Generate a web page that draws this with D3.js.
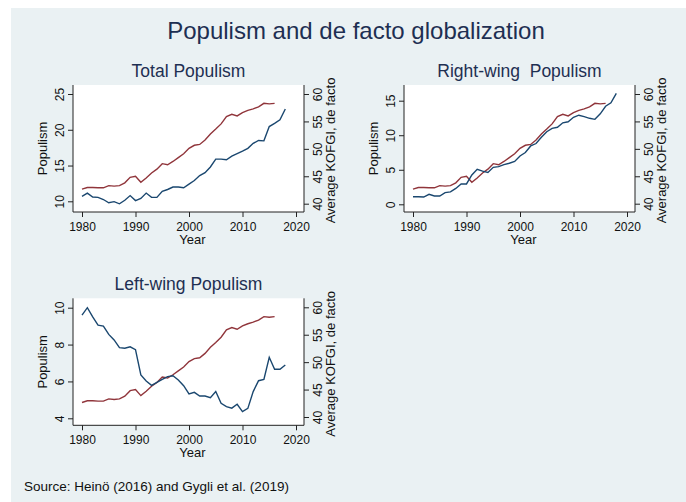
<!DOCTYPE html>
<html>
<head>
<meta charset="utf-8">
<script src="https://cdn.jsdelivr.net/npm/d3@7"></script>
<style>
  html, body { margin: 0; padding: 0; background: #ffffff; }
  svg { display: block; font-family: "Liberation Sans", Arial, sans-serif; }
</style>
</head>
<body>
<script>
// Yearly populism vote shares (Heinö) and average de facto KOF globalization index
const years = [1980,1981,1982,1983,1984,1985,1986,1987,1988,1989,1990,1991,1992,1993,1994,1995,1996,1997,1998,1999,
               2000,2001,2002,2003,2004,2005,2006,2007,2008,2009,2010,2011,2012,2013,2014,2015,2016,2017,2018];
const kofYears = [1980,1981,1982,1983,1984,1985,1986,1987,1988,1989,1990,1991,1992,1993,1994,1995,1996,1997,1998,1999,
                  2000,2001,2002,2003,2004,2005,2006,2007,2008,2009,2010,2011,2012,2013,2014,2015,2016];

const totalPopulism = [10.7,11.15,10.6,10.55,10.25,9.8,9.95,9.65,10.15,10.8,10.1,10.4,11.15,10.55,10.55,11.4,11.65,12.0,12.0,11.9,
                       12.4,12.9,13.6,14.0,14.8,15.9,15.9,15.8,16.3,16.65,17.0,17.4,18.1,18.5,18.45,20.45,20.9,21.4,22.9];
const rightPopulism = [1.1,1.1,1.05,1.45,1.2,1.2,1.7,1.8,2.3,2.95,2.95,4.25,5.07,4.8,4.6,5.35,5.45,5.75,5.95,6.2,
                       7.0,7.5,8.45,8.8,9.7,10.5,11.0,11.15,11.8,11.95,12.6,12.9,12.7,12.45,12.3,13.1,14.2,14.7,16.05];
const leftPopulism = [9.6,10.0,9.5,9.05,9.0,8.55,8.25,7.83,7.8,7.88,7.72,6.35,6.02,5.79,5.95,6.11,6.26,6.31,6.08,5.77,
                      5.32,5.41,5.21,5.21,5.12,5.45,4.81,4.63,4.55,4.76,4.36,4.54,5.45,6.04,6.11,7.31,6.66,6.66,6.89];
const kofgiDeFacto = [42.65,42.95,42.95,42.9,42.9,43.3,43.2,43.3,43.8,44.8,45.0,43.9,44.7,45.6,46.3,47.3,47.1,47.7,48.4,49.1,
                      50.1,50.65,50.8,51.6,52.7,53.6,54.55,55.9,56.3,56.0,56.6,57.0,57.3,57.65,58.3,58.2,58.3];

const xTicks = [1980, 1990, 2000, 2010, 2020];
const kofTicks = [40, 45, 50, 55, 60];
const totalTicks = [10, 15, 20, 25];
const rightTicks = [0, 5, 10, 15];
const leftTicks = [4, 6, 8, 10];

const mainTitle = "Populism and de facto globalization";
const sourceNote = "Source: Heinö (2016) and Gygli et al. (2019)";

const W = 686, H = 502;
const navy = "#1a476f", maroon = "#90353b", titleInk = "#1e2f52", ink = "#111111";
const intFmt = d3.format("d");

const svg = d3.select("body").append("svg").attr("width", W).attr("height", H);

svg.append("rect").attr("x", 11).attr("y", 8).attr("width", W - 11).attr("height", H - 8)
  .attr("fill", "#eaf1f3");

svg.append("text").attr("x", 356).attr("y", 39).attr("text-anchor", "middle")
  .attr("font-size", 24).attr("fill", titleInk).text(mainTitle);

svg.append("text").attr("x", 24).attr("y", 491)
  .attr("font-size", 13.5).attr("fill", ink).text(sourceNote);

// One dual-axis panel: populism on the left axis, KOFGI on the right
function panel(cfg) {
  const L = 73 + cfg.ox, R = 304 + cfg.ox, T = 85 + cfg.oy, B = 212 + cfg.oy;
  const g = svg.append("g");

  const x = d3.scaleLinear().domain([1980, 2020]).range([82 + cfg.ox, 296 + cfg.ox]);
  const yL = d3.scaleLinear().domain(cfg.leftDomain).range(cfg.leftRange.map(v => v + cfg.oy));
  const yR = d3.scaleLinear().domain([40, 60]).range([203.7 + cfg.oy, 94 + cfg.oy]);

  g.append("rect").attr("x", L).attr("y", T).attr("width", R - L).attr("height", B - T).attr("fill", "#fff");

  g.append("text").attr("x", (L + R) / 2).attr("y", T - 8).attr("text-anchor", "middle")
    .attr("font-size", 17.5).attr("fill", titleInk).style("white-space", "pre").text(cfg.title);

  const line = d3.line().x(d => x(d[0])).y(d => d[2](d[1]));
  g.append("path").datum(kofYears.map((yr, i) => [yr, kofgiDeFacto[i], yR]))
    .attr("d", line).attr("fill", "none").attr("stroke", maroon).attr("stroke-width", 1.4);
  g.append("path").datum(years.map((yr, i) => [yr, cfg.values[i], yL]))
    .attr("d", line).attr("fill", "none").attr("stroke", navy).attr("stroke-width", 1.4);

  const axisStyle = sel => {
    sel.select(".domain").remove();
    sel.selectAll(".tick line").attr("stroke", "#222").attr("stroke-width", 1);
    sel.selectAll(".tick text").attr("font-size", 12).attr("fill", ink).attr("font-family", "Liberation Sans, Arial, sans-serif");
  };

  // bottom axis
  const ax = g.append("g").attr("transform", `translate(0,${B})`)
    .call(d3.axisBottom(x).tickValues(xTicks).tickFormat(intFmt).tickSize(5).tickPadding(5));
  axisStyle(ax);
  ax.selectAll(".tick text").attr("dy", "0.71em");

  // left axis, labels turned upright along the axis
  const al = g.append("g").attr("transform", `translate(${L},0)`)
    .call(d3.axisLeft(yL).tickValues(cfg.ticks).tickFormat(intFmt).tickSize(5));
  axisStyle(al);
  al.selectAll(".tick text").attr("x", null).attr("dy", null)
    .attr("transform", "translate(-9,0) rotate(-90)").attr("text-anchor", "middle").attr("y", 0);

  // right axis
  const ar = g.append("g").attr("transform", `translate(${R},0)`)
    .call(d3.axisRight(yR).tickValues(kofTicks).tickFormat(intFmt).tickSize(5));
  axisStyle(ar);
  ar.selectAll(".tick text").attr("x", null).attr("dy", null)
    .attr("transform", "translate(18,0) rotate(-90)").attr("text-anchor", "middle").attr("y", 0);

  // axis lines
  g.append("path").attr("d", `M${L},${T}V${B}H${R}V${T}`).attr("fill", "none")
    .attr("stroke", "#222").attr("stroke-width", 1);

  g.append("text").attr("x", (L + R) / 2 + 4).attr("y", B + 32).attr("text-anchor", "middle")
    .attr("font-size", 13).attr("fill", ink).text("Year");
  g.append("text").attr("transform", `translate(${L - 26},${(T + B) / 2}) rotate(-90)`)
    .attr("text-anchor", "middle").attr("font-size", 13).attr("fill", ink).text("Populism");
  g.append("text").attr("transform", `translate(${R + 31},${(T + B) / 2 + 2}) rotate(-90)`)
    .attr("text-anchor", "middle").attr("font-size", 13).attr("fill", ink).text("Average KOFGI, de facto");
}

panel({ ox: 0, oy: 0, title: "Total Populism", values: totalPopulism, ticks: totalTicks,
        leftDomain: [10, 25], leftRange: [201.3, 94] });
panel({ ox: 331, oy: 0, title: "Right-wing  Populism", values: rightPopulism, ticks: rightTicks,
        leftDomain: [0, 15], leftRange: [204.3, 100.7] });
panel({ ox: 0, oy: 213.3, title: "Left-wing Populism", values: leftPopulism, ticks: leftTicks,
        leftDomain: [4, 10], leftRange: [205, 94.4] });
</script>
</body>
</html>
